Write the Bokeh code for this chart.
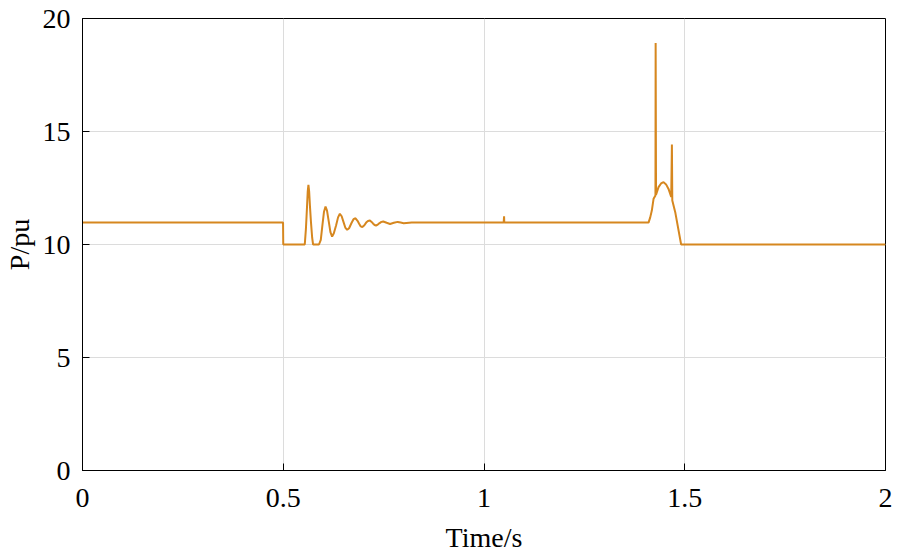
from bokeh.plotting import figure
from bokeh.models import Range1d, FixedTicker
from bokeh.embed import file_html
from bokeh.resources import INLINE

# Time (s) and power (pu) samples
t = [0.0, 0.4995, 0.5, 0.5536, 0.5565, 0.5590, 0.5610, 0.5627, 0.5645, 0.5665, 0.5690, 0.5720, 0.5743,
     0.5890, 0.5935, 0.5975, 0.6015, 0.6053, 0.6090, 0.6135, 0.6175, 0.6217, 0.6260, 0.6317,
     0.6365, 0.6410, 0.6455, 0.6500, 0.6545, 0.6592, 0.6640, 0.6700, 0.6750, 0.6800, 0.6850,
     0.6890, 0.6930, 0.6970, 0.7020, 0.7065, 0.7110, 0.7160, 0.7200, 0.7240, 0.7275, 0.7310,
     0.7355, 0.7400, 0.7445, 0.7490, 0.7575, 0.7660, 0.7755, 0.7850, 0.7925, 0.8000, 0.8200,
     1.0490, 1.0500, 1.0505, 1.4098, 1.4140, 1.4180, 1.4223, 1.4270, 1.4275, 1.4285,
     1.4347, 1.4410, 1.4472, 1.4535, 1.4596, 1.4663, 1.4680, 1.4690, 1.4763, 1.4910, 2.0]
p_pu = [10.97, 10.97, 10.0, 10.0, 10.7, 11.6, 12.35, 12.64, 12.35, 11.7, 11.0, 10.3, 10.0,
        10.0, 10.2, 10.85, 11.45, 11.68, 11.5, 11.0, 10.55, 10.35, 10.5, 10.85,
        11.2, 11.36, 11.25, 11.0, 10.75, 10.65, 10.72, 10.95, 11.12, 11.16, 11.05,
        10.92, 10.80, 10.77, 10.85, 10.97, 11.04, 11.06, 11.0, 10.92, 10.86, 10.84,
        10.88, 10.95, 11.0, 11.02, 10.96, 10.91, 10.96, 11.0, 10.97, 10.94, 10.97,
        10.97, 11.25, 10.97, 10.97, 11.2, 11.5, 12.02, 12.17, 18.92, 12.2,
        12.54, 12.70, 12.76, 12.66, 12.46, 12.1, 14.42, 11.95, 11.43, 10.0, 10.0]

x_ticks = [0, 0.5, 1, 1.5, 2]
x_tick_labels = {0: "0", 0.5: "0.5", 1: "1", 1.5: "1.5", 2: "2"}
y_ticks = [0, 5, 10, 15, 20]

FONT = "Liberation Serif"

p = figure(width=895, height=559, output_backend="svg", toolbar_location=None,
           x_range=Range1d(0, 2), y_range=Range1d(0, 20),
           min_border_left=78, min_border_right=10, min_border_top=18, min_border_bottom=89)

p.line(t, p_pu, line_color="#D6871F", line_width=2)

p.outline_line_color = "black"
p.outline_line_width = 1
p.outline_line_alpha = 1

for ax in (p.xaxis[0], p.yaxis[0]):
    ax.axis_line_color = "black"
    ax.major_tick_in = 7
    ax.major_tick_out = 0
    ax.minor_tick_line_color = None
    ax.major_tick_line_color = "black"
    ax.major_label_text_font = FONT
    ax.major_label_text_font_size = "28px"
    ax.major_label_text_color = "black"
    ax.axis_label_text_font = FONT
    ax.axis_label_text_font_size = "28px"
    ax.axis_label_text_font_style = "normal"
    ax.axis_label_text_color = "black"

p.xaxis.ticker = FixedTicker(ticks=x_ticks)
p.xaxis.major_label_overrides = x_tick_labels
p.yaxis.ticker = FixedTicker(ticks=y_ticks)
p.xaxis.axis_label = "Time/s"
p.yaxis.axis_label = "P/pu"
p.xaxis.major_label_standoff = 18
p.xaxis.axis_label_standoff = 12
p.yaxis.major_label_standoff = 12
p.yaxis.axis_label_standoff = 5

p.xgrid.grid_line_color = "#DCDCDC"
p.ygrid.grid_line_color = "#DCDCDC"
p.xgrid.grid_line_width = 1
p.ygrid.grid_line_width = 1

p.background_fill_color = "white"
p.border_fill_color = "white"

open("out.html", "w").write(file_html(p, INLINE))
